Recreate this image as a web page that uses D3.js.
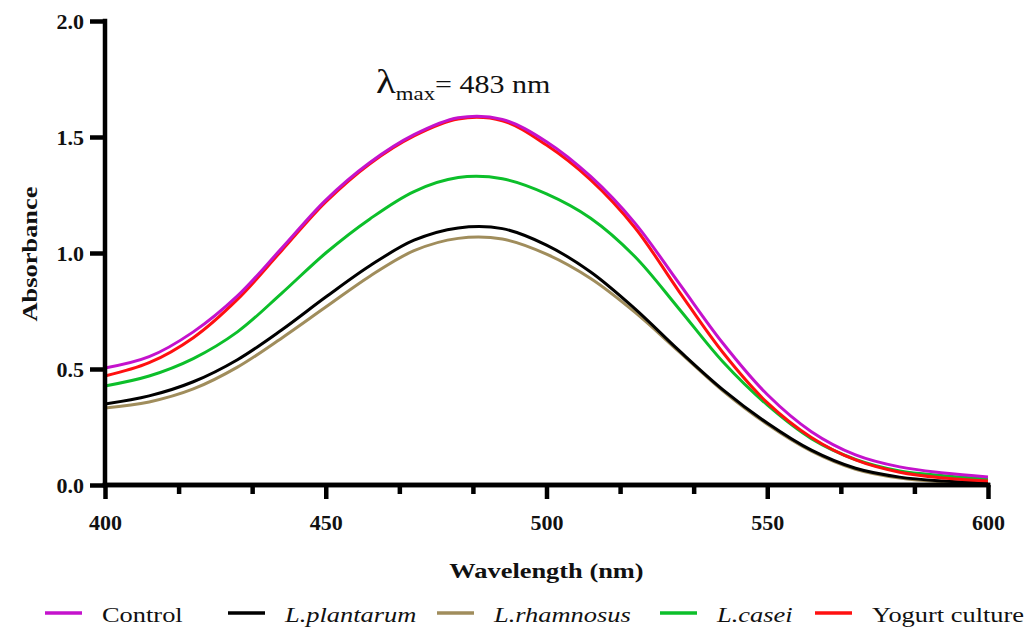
<!DOCTYPE html>
<html>
<head>
<meta charset="utf-8">
<script src="https://cdn.jsdelivr.net/npm/d3@7"></script>
<style>
  html, body { margin: 0; padding: 0; background: #ffffff; }
  svg { display: block; }
  text { font-family: "Liberation Serif", "Times New Roman", serif; fill: #111; }
</style>
</head>
<body>
<svg id="chart" width="1036" height="628"></svg>
<script>
// Absorption spectra (400–600 nm) of the dye after treatment
const wavelengths = [400, 410, 420, 430, 440, 450, 460, 470, 480, 490, 500,
                     510, 520, 530, 540, 550, 560, 570, 580, 590, 600];

const control      = [0.504, 0.553, 0.660, 0.815, 1.020, 1.228, 1.390, 1.510, 1.583, 1.576, 1.480,
                      1.330, 1.130, 0.870, 0.610, 0.390, 0.230, 0.130, 0.078, 0.052, 0.035];
const plantarum    = [0.349, 0.384, 0.445, 0.540, 0.668, 0.810, 0.945, 1.055, 1.108, 1.105, 1.034,
                      0.918, 0.760, 0.580, 0.410, 0.267, 0.150, 0.072, 0.034, 0.017, 0.008];
const rhamnosus    = [0.332, 0.358, 0.414, 0.508, 0.633, 0.767, 0.900, 1.010, 1.063, 1.060, 0.995,
                      0.890, 0.745, 0.575, 0.405, 0.262, 0.146, 0.068, 0.030, 0.013, 0.005];
const casei        = [0.427, 0.470, 0.545, 0.660, 0.826, 1.000, 1.147, 1.265, 1.325, 1.320, 1.255,
                      1.150, 0.985, 0.760, 0.530, 0.345, 0.200, 0.110, 0.060, 0.040, 0.026];
const yogurt       = [0.470, 0.527, 0.635, 0.800, 1.010, 1.220, 1.385, 1.505, 1.578, 1.570, 1.465,
                      1.315, 1.110, 0.835, 0.570, 0.355, 0.205, 0.108, 0.055, 0.030, 0.017];

const seriesNames  = ["Control", "L.plantarum", "L.rhamnosus", "L.casei", "Yogurt culture"];
const seriesValues = [control, plantarum, rhamnosus, casei, yogurt];
const seriesColors = ["#c412cc", "#000000", "#a08d5c", "#0cbf2a", "#ff1010"];
const seriesItalic = [false, true, true, true, false];
const drawOrder    = [2, 1, 3, 4, 0];   // control drawn last, on top

const xTicks      = [400, 450, 500, 550, 600];
const xMinorTicks = [416.67, 433.33, 466.67, 483.33, 516.67, 533.33, 566.67, 583.33];
const yTicks      = [0, 0.5, 1.0, 1.5, 2.0];
const peakLabel   = "483";

const svg = d3.select("#chart");
const x = d3.scaleLinear().domain([400, 600]).range([105, 988]);
const y = d3.scaleLinear().domain([0, 2]).range([485, 21]);

const AXIS_W = 4.5;
// Serif text is widened to a book-face proportion
const WIDEN = 1.2;
function widen(sel, k) {
  sel.each(function () {
    const len = this.getComputedTextLength();
    d3.select(this).attr("textLength", len * k).attr("lengthAdjust", "spacingAndGlyphs");
  });
}

// ---- curves ----
const line = d3.line()
  .x(d => x(d[0]))
  .y(d => y(d[1]))
  .curve(d3.curveCatmullRom.alpha(0.5));

const curves = svg.append("g");
drawOrder.forEach(i => {
  curves.append("path")
    .datum(wavelengths.map((w, j) => [w, seriesValues[i][j]]))
    .attr("fill", "none")
    .attr("stroke", seriesColors[i])
    .attr("stroke-width", 3)
    .attr("stroke-linejoin", "round")
    .attr("d", line);
});

// ---- x axis ----
const xMinor = svg.append("g").attr("transform", `translate(0,${y(0)})`)
  .call(d3.axisBottom(x).tickValues(xMinorTicks).tickSize(9).tickSizeOuter(0).tickFormat(""));
const xAxis = svg.append("g").attr("transform", `translate(0,${y(0)})`)
  .call(d3.axisBottom(x).tickValues(xTicks).tickSize(14).tickSizeOuter(0).tickFormat(d3.format("d")));
[xMinor, xAxis].forEach(g => {
  g.select(".domain").attr("stroke", "#000").attr("stroke-width", AXIS_W)
    .attr("d", `M${x(400) - AXIS_W / 2},0H${x(600) + AXIS_W / 2}`);
  g.selectAll(".tick line").attr("stroke", "#000").attr("stroke-width", AXIS_W);
});
xAxis.selectAll(".tick text")
  .attr("y", 45).attr("dy", 0)
  .style("font-size", "22px").style("font-weight", "bold").style("fill", "#111");

// ---- y axis ----
const yAxis = svg.append("g").attr("transform", `translate(${x(400)},0)`)
  .call(d3.axisLeft(y).tickValues(yTicks).tickSize(15).tickSizeOuter(0).tickFormat(d3.format(".1f")));
yAxis.select(".domain").attr("stroke", "#000").attr("stroke-width", AXIS_W)
  .attr("d", `M0,${y(2) - AXIS_W / 2}V${y(0) + AXIS_W / 2}`);
yAxis.selectAll(".tick line").attr("stroke", "#000").attr("stroke-width", AXIS_W);
yAxis.selectAll(".tick text")
  .attr("x", -21).attr("dy", "0.33em")
  .style("font-size", "22px").style("font-weight", "bold").style("fill", "#111");

// ---- axis titles ----
const xTitle = svg.append("text")
  .attr("x", (x(400) + x(600)) / 2).attr("y", 578)
  .attr("text-anchor", "middle")
  .style("font-size", "22px").style("font-weight", "bold")
  .text("Wavelength (nm)");
widen(xTitle, WIDEN);

const yTitle = svg.append("text")
  .attr("transform", `translate(37,${(y(0) + y(2)) / 2 + 1}) rotate(-90)`)
  .attr("text-anchor", "middle")
  .style("font-size", "22px").style("font-weight", "bold")
  .text("Absorbance");
widen(yTitle, WIDEN);

// ---- peak annotation ----
const peak = svg.append("text")
  .attr("x", 376).attr("y", 93)
  .style("font-size", "25px");
peak.append("tspan").style("font-size", "34px").text("λ");
peak.append("tspan").attr("dy", 7).style("font-size", "19px").text("max");
peak.append("tspan").attr("dy", -7).text(`= ${peakLabel} nm`);
widen(peak, 1.2);

// ---- legend ----
const legendX = [45, 228, 437, 660, 815];
const legend = svg.append("g");
seriesNames.forEach((name, i) => {
  const g = legend.append("g").attr("transform", `translate(${legendX[i]},613)`);
  g.append("line").attr("x1", 0).attr("x2", 37).attr("y1", 0).attr("y2", 0)
    .attr("stroke", seriesColors[i]).attr("stroke-width", 3.5);
  const t = g.append("text").attr("x", 57).attr("y", 9)
    .style("font-size", "22px")
    .style("font-style", seriesItalic[i] ? "italic" : "normal")
    .text(name);
  widen(t, WIDEN);
});
</script>
</body>
</html>
